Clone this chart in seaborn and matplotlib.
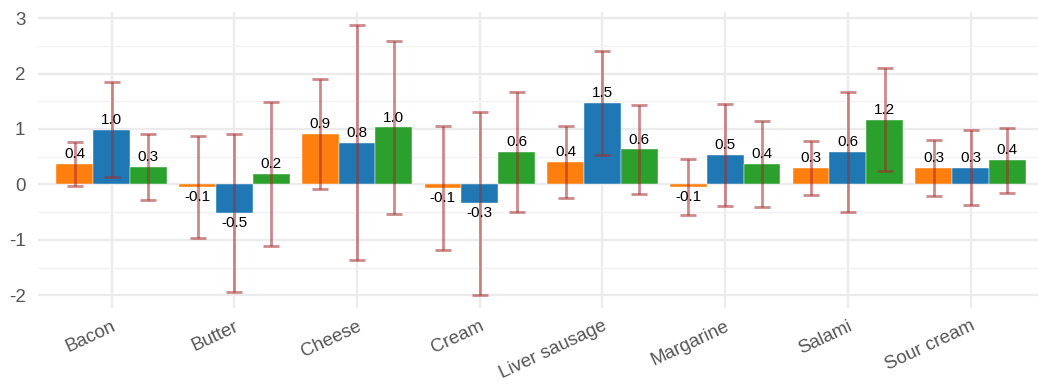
import matplotlib
matplotlib.use("Agg")
import matplotlib.pyplot as plt
import seaborn as sns
import pandas as pd
import numpy as np

categories = ["Bacon", "Butter", "Cheese", "Cream", "Liver sausage", "Margarine", "Salami", "Sour cream"]
series_names = ["A", "B", "C"]
series_a = [0.37, -0.055, 0.91, -0.07, 0.405, -0.055, 0.30, 0.30]
series_b = [0.99, -0.515, 0.75, -0.34, 1.47, 0.53, 0.58, 0.30]
series_c = [0.315, 0.185, 1.03, 0.585, 0.63, 0.37, 1.17, 0.435]
err_a = [0.40, 0.92, 1.00, 1.12, 0.645, 0.505, 0.485, 0.505]
err_b = [0.86, 1.42, 2.12, 1.65, 0.935, 0.92, 1.085, 0.675]
err_c = [0.60, 1.30, 1.56, 1.075, 0.805, 0.78, 0.925, 0.59]
colors = ["#FF7F0E", "#1F77B4", "#2CA02C"]
yticks = [-2, -1, 0, 1, 2, 3]

rows = []
for name, vals, errs in zip(series_names, [series_a, series_b, series_c], [err_a, err_b, err_c]):
    for c, v, e in zip(categories, vals, errs):
        rows.append({"category": c, "series": name, "value": v, "err": e})
df = pd.DataFrame(rows)

sns.set_style("white")
plt.rcParams["font.family"] = ["Liberation Sans", "DejaVu Sans"]

fig = plt.figure(figsize=(10.38, 3.87), dpi=100)
ax = fig.add_axes([38 / 1038, (387 - 308) / 387, 1000 / 1038, 296 / 387])

sns.barplot(data=df, x="category", y="value", hue="series", order=categories,
            hue_order=series_names, palette=colors, width=0.9, gap=0,
            errorbar=None, legend=False, ax=ax, edgecolor="white", linewidth=0.3,
            saturation=1, zorder=2)

# patches in hue order then category order
bars = [p for p in ax.patches if p.get_width() > 0]
for i, name in enumerate(series_names):
    sub = df[df["series"] == name].set_index("category").loc[categories]
    for j, c in enumerate(categories):
        p = bars[i * len(categories) + j]
        xc = p.get_x() + p.get_width() / 2
        v = sub.loc[c, "value"]
        e = sub.loc[c, "err"]
        ax.errorbar(xc, v, yerr=e, fmt="none", ecolor="#A52A2A", alpha=0.55,
                    elinewidth=2, capsize=6, capthick=2, zorder=3)
        if v >= 0:
            ax.annotate(f"{v:.1f}", (xc, v), xytext=(0, 2), textcoords="offset points",
                        ha="center", va="bottom", fontsize=11, color="black", zorder=4)
        else:
            ax.annotate(f"{v:.1f}", (xc, v), xytext=(0, -2), textcoords="offset points",
                        ha="center", va="top", fontsize=11, color="black", zorder=4)

ax.set_xlim(-0.6, 7.55)
ax.set_ylim(-2.23, 3.11)
ax.set_yticks(yticks)
ax.set_yticklabels([str(t) for t in yticks])
ax.set_yticks(np.arange(-1.5, 3.0, 1.0), minor=True)
ax.grid(True, which="major", axis="both", color="#EBEBEB", linewidth=1.6, zorder=0)
ax.grid(True, which="minor", axis="y", color="#F2F2F2", linewidth=1.0, zorder=0)
ax.set_axisbelow(True)
for s in ax.spines.values():
    s.set_visible(False)
ax.tick_params(axis="both", which="both", length=0, colors="#555555", labelsize=13.5)
ax.tick_params(axis="y", pad=9)
ax.tick_params(axis="x", pad=7)
for lab in ax.get_xticklabels():
    lab.set_rotation(25)
    lab.set_ha("right")
    lab.set_rotation_mode("anchor")
ax.set_xlabel("")
ax.set_ylabel("")

fig.savefig("out.png", dpi=100)
